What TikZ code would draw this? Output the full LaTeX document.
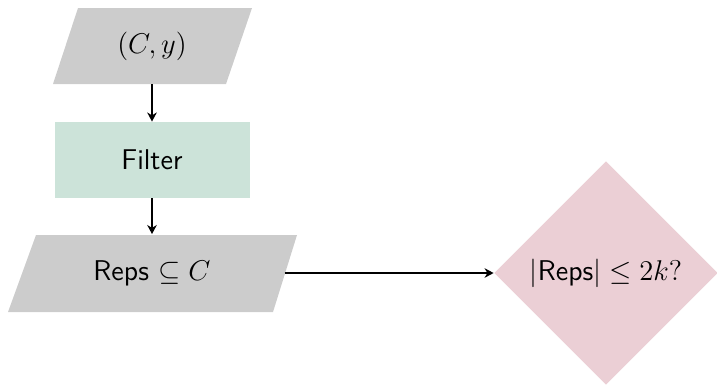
\documentclass[tikz,border=0pt]{standalone}
\usetikzlibrary{shapes.geometric,arrows.meta}
\definecolor{iogray}{RGB}{204,204,204}
\definecolor{procgreen}{RGB}{204,227,217}
\definecolor{decpink}{RGB}{235,207,213}
\tikzset{
  lbl/.style={inner sep=0pt, font=\sffamily\large},
  flow/.style={line width=0.7pt, -{Stealth[length=3.8pt,width=4pt,inset=1.2pt]}},
}
\begin{document}
\begin{tikzpicture}[x=0.42pt,y=-0.42pt]
\useasboundingbox (0,0) rectangle (717,385);
% input parallelogram
\fill[iogray] (78,8) -- (252,8) -- (226,84) -- (53,84) -- cycle;
\node[lbl, minimum width=70pt, minimum height=31.9pt] (in) at (152,46) {$(C,y)$};
% filter
\node[lbl, fill=procgreen, minimum width=81.9pt, minimum height=31.9pt] (filter) at (152,160) {Filter};
% reps parallelogram
\fill[iogray] (36,235) -- (297,235) -- (273,312) -- (8,312) -- cycle;
\node[lbl, minimum width=111pt, minimum height=32.3pt] (reps) at (152,273) {Reps $\subseteq C$};
% decision diamond
\node[lbl, diamond, aspect=1, fill=decpink, minimum width=94pt, minimum height=94pt] (dec) at (606,273) {$|$Reps$|\leq 2k?$};
% connectors
\draw[flow] (in.south) -- (filter.north);
\draw[flow] (filter.south) -- (reps.north);
\draw[flow] (reps.east) -- (dec.west);
\end{tikzpicture}
\end{document}
